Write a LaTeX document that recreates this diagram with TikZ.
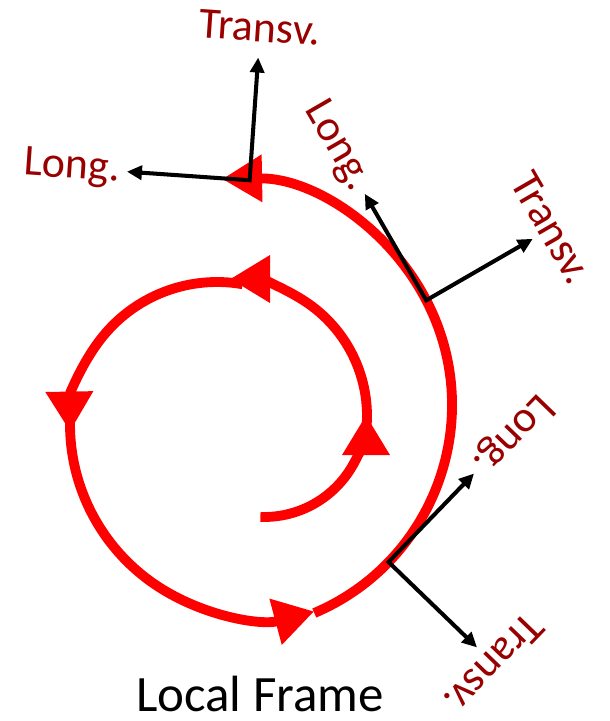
\documentclass[tikz,border=0pt]{standalone}
\usepackage{fontspec}
\setmainfont{Carlito}
\usetikzlibrary{arrows.meta}
\definecolor{LabelRed}{HTML}{990000}
\definecolor{Flow}{HTML}{FF0000}

\begin{document}
\begin{tikzpicture}[
 flow/.style={draw=Flow,line width=5.6pt,-{Triangle[length=0.8cm,width=0.9cm]}},
 axis/.style={line width=2.3pt,{Triangle[length=0.3cm,width=0.28cm]}-{Triangle[length=0.3cm,width=0.28cm]}},
 lbl/.style={text=LabelRed,font=\fontsize{25}{30}\selectfont,inner sep=0pt}]
\useasboundingbox (0,0) rectangle (12.2,-14.42);
% centres of the spiral pieces
\coordinate (c1) at (5.28,-8.30);
\coordinate (c2) at (4.60,-8.32);
\coordinate (c3) at (4.34,-8.58);
\coordinate (c4) at (5.28,-8.48);
\coordinate (c5) at (4.52,-8.10);
\draw[flow] ([shift={(-92:2.04)}]c1) arc[start angle=-92,end angle=0,radius=2.04];
\draw[flow] ([shift={(-5:2.74)}]c2) arc[start angle=-5,end angle=90,radius=2.74];
\draw[flow] ([shift={(80:2.94)}]c3) arc[start angle=80,end angle=181,radius=2.94];
\draw[flow] ([shift={(177:3.88)}]c4) arc[start angle=177,end angle=285,radius=3.88];
\draw[flow] ([shift={(-67:4.52)}]c5) arc[start angle=-67,end angle=91,radius=4.52];
% local frames on the outer piece
\foreach \n/\t/\a/\d in {1/84/86/0.6,2/27.6/30/0.44,3/-44/-44/0.48}{
 \coordinate (o\n) at ([shift={(\t:4.52)}]c5);
 \path (o\n) ++(\a+90:2.46) coordinate (lg\n) ++(\a+90:1.1) node[lbl,rotate=\a-90] (long\n) {Long.};
 \path (o\n) ++(\a:2.46) coordinate (tr\n) ++(\a:\d) node[lbl,rotate=\a-90] (trans\n) {Transv.};
 \draw[axis] (lg\n) -- (o\n) -- (tr\n);
}
\node[font=\fontsize{29}{35}\selectfont,anchor=base,inner sep=0pt] (title) at (5.20,-14.22) {Local Frame};
\end{tikzpicture}
\end{document}
